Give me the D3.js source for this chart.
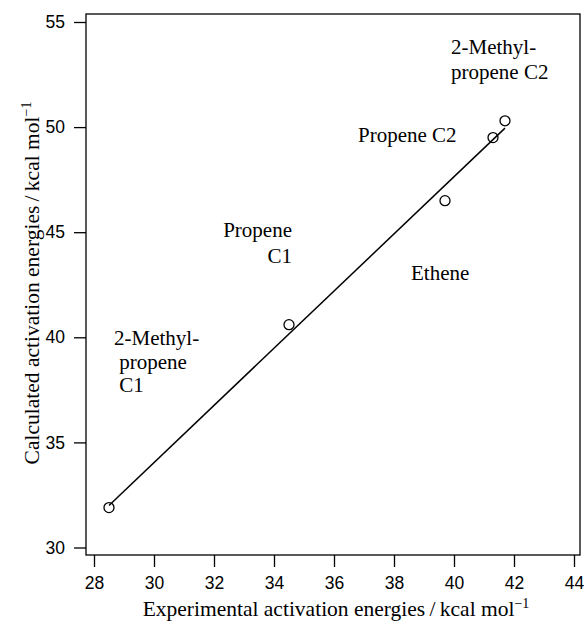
<!DOCTYPE html>
<html>
<head>
<meta charset="utf-8">
<script src="https://cdn.jsdelivr.net/npm/d3@7"></script>
<style>
  html, body { margin: 0; padding: 0; background: #fff; }
  svg { display: block; }
</style>
</head>
<body>
<svg id="chart" width="584" height="625"></svg>
<script>
// ---- data ----
const species = ["2-Methylpropene C1", "Propene C1", "Ethene", "Propene C2", "2-Methylpropene C2"];
const experimental = [28.5, 34.5, 39.7, 41.3, 41.7];
const calculated = [31.9, 40.6, 46.5, 49.5, 50.3];
const fitX = [28.5, 41.7];
const fitY = [32.0, 49.95];
const xTicks = [28, 30, 32, 34, 36, 38, 40, 42, 44];
const yTicks = [30, 35, 40, 45, 50, 55];
// label text lines
const labelLines = [
  ["2-Methyl-", "propene C2"],
  ["Propene C2"],
  ["Propene", "C1"],
  ["Ethene"],
  ["2-Methyl-", " propene", " C1"]
];

const svg = d3.select("#chart");
const box = {left: 86, top: 14, right: 580, bottom: 555};

const x = d3.scaleLinear().domain([28, 44]).range([94, 574]);
const y = d3.scaleLinear().domain([30, 55]).range([547.5, 22]);

// plot box
svg.append("rect")
  .attr("x", box.left).attr("y", box.top)
  .attr("width", box.right - box.left).attr("height", box.bottom - box.top)
  .attr("fill", "none").attr("stroke", "#000").attr("stroke-width", 1.3);

const sans = "'Liberation Sans', Arial, sans-serif";
const serif = "'Liberation Serif', 'Times New Roman', serif";

// x axis
const xAxis = d3.axisBottom(x).tickValues(xTicks).tickSize(12).tickSizeOuter(0).tickPadding(10)
  .tickFormat(d3.format("d"));
const gx = svg.append("g").attr("transform", `translate(0,${box.bottom})`).call(xAxis);
gx.select(".domain").remove();
gx.selectAll(".tick line").attr("stroke", "#000").attr("stroke-width", 1.3);
gx.selectAll(".tick text").attr("font-family", sans).attr("font-size", 17.5).attr("fill", "#000");

// y axis
const yAxis = d3.axisLeft(y).tickValues(yTicks).tickSize(12).tickSizeOuter(0).tickPadding(9)
  .tickFormat(d3.format("d"));
const gy = svg.append("g").attr("transform", `translate(${box.left},0)`).call(yAxis);
gy.select(".domain").remove();
gy.selectAll(".tick line").attr("stroke", "#000").attr("stroke-width", 1.3);
gy.selectAll(".tick text").attr("font-family", sans).attr("font-size", 17.5).attr("fill", "#000");

// fit line
const line = d3.line().x(d => x(d[0])).y(d => y(d[1]));
svg.append("path")
  .datum(d3.zip(fitX, fitY))
  .attr("d", line)
  .attr("fill", "none").attr("stroke", "#000").attr("stroke-width", 1.5);

// points
svg.selectAll("circle.pt")
  .data(d3.zip(experimental, calculated))
  .join("circle")
  .attr("class", "pt")
  .attr("cx", d => x(d[0])).attr("cy", d => y(d[1]))
  .attr("r", 5)
  .attr("fill", "none").attr("stroke", "#000").attr("stroke-width", 1.3);

// labels (pixel layout)
const labelLayout = [
  {x: 451, y: 54, anchor: "start", dy: 25},
  {x: 358, y: 142, anchor: "start", dy: 24},
  {x: 292, y: 237, anchor: "end", dy: 26},
  {x: 411, y: 280, anchor: "start", dy: 24},
  {x: 114, y: 345, anchor: "start", dy: 23.5}
];
labelLines.forEach((lines, i) => {
  const L = labelLayout[i];
  const t = svg.append("text")
    .attr("font-family", serif).attr("font-size", 21).attr("fill", "#000")
    .attr("text-anchor", L.anchor)
    .style("white-space", "pre");
  lines.forEach((s, j) => {
    t.append("tspan").attr("x", L.x).attr("y", L.y + j * L.dy).text(s);
  });
});

// axis titles
const xt = svg.append("text")
  .attr("x", 336).attr("y", 616)
  .attr("text-anchor", "middle")
  .attr("font-family", serif).attr("font-size", 21.5).attr("fill", "#000");
xt.append("tspan").text("Experimental activation energies\u2009/\u2009kcal mol");
xt.append("tspan").attr("font-size", 14).attr("dy", -8).text("\u22121");

const yt = svg.append("text")
  .attr("transform", `translate(39,283) rotate(-90)`)
  .attr("text-anchor", "middle")
  .attr("font-family", serif).attr("font-size", 21.5).attr("fill", "#000");
yt.append("tspan").text("Calculated activation energies\u2009/\u2009kcal mol");
yt.append("tspan").attr("font-size", 14).attr("dy", -8).text("\u22121");
</script>
</body>
</html>
